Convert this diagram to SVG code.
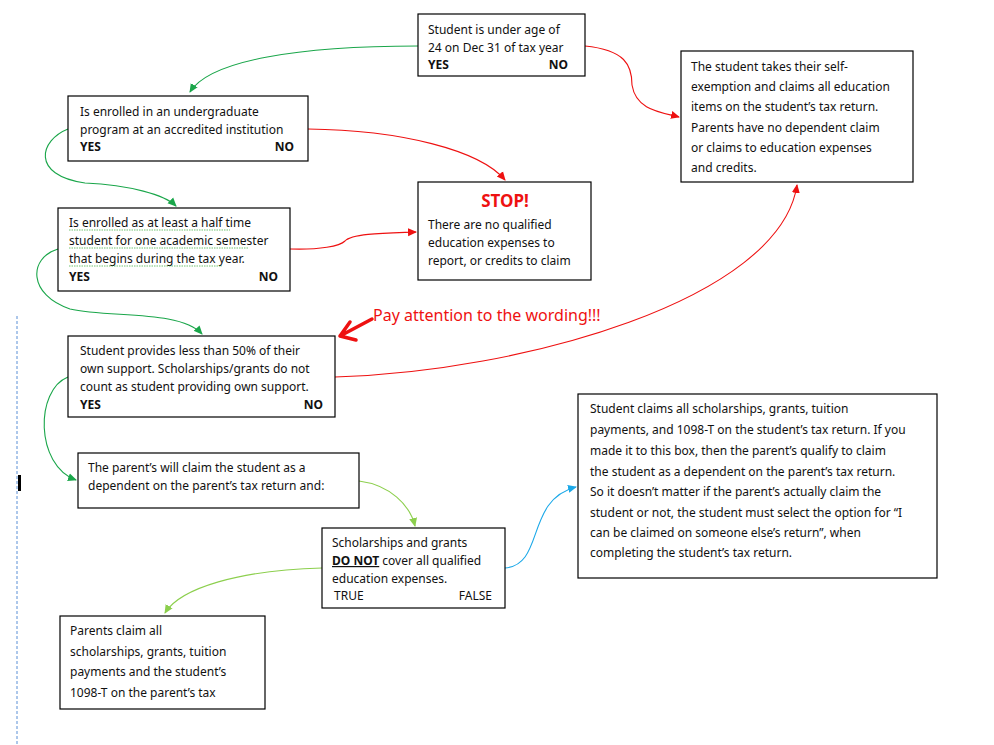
<svg xmlns="http://www.w3.org/2000/svg" width="994" height="745" viewBox="0 0 994 745">
<defs>
<style>
.b{fill:#fff;stroke:#000;stroke-width:1.2}
text{font-family:"Noto Sans","Liberation Sans",sans-serif;font-size:12px;fill:#111}
.k{font-weight:bold}
.c{fill:none;stroke-width:1.1}
.g{stroke:#1aa64a}.r{stroke:#ee1111}.lg{stroke:#8ccf4d}.bl{stroke:#1aa8e8}
.sq{fill:none;stroke:#3a3;stroke-width:0.7;stroke-dasharray:1.5 1}
</style>
<marker id="ag" markerWidth="10" markerHeight="10" refX="8" refY="5" orient="auto" markerUnits="userSpaceOnUse"><path d="M0,1 L9,5 L0,9z" fill="#1aa64a"/></marker>
<marker id="ar" markerWidth="10" markerHeight="10" refX="8" refY="5" orient="auto" markerUnits="userSpaceOnUse"><path d="M0,1 L9,5 L0,9z" fill="#ee1111"/></marker>
<marker id="al" markerWidth="10" markerHeight="10" refX="8" refY="5" orient="auto" markerUnits="userSpaceOnUse"><path d="M0,1 L9,5 L0,9z" fill="#8ccf4d"/></marker>
<marker id="ab" markerWidth="10" markerHeight="10" refX="8" refY="5" orient="auto" markerUnits="userSpaceOnUse"><path d="M0,1 L9,5 L0,9z" fill="#1aa8e8"/></marker>
</defs>
<rect width="994" height="745" fill="#fff"/>
<line x1="17" y1="316" x2="17" y2="745" stroke="#5b8fd6" stroke-dasharray="3 2"/>
<rect x="18" y="475" width="3" height="16" fill="#000"/>
<g id="connectors">
<path class="c g" d="M418,46 C300,46 210,60 190,92" marker-end="url(#ag)"/>
<path class="c r" d="M585,46 C625,50 632,65 632,85 C636,110 660,112 679,117" marker-end="url(#ar)"/>
<path class="c r" d="M308,129 C400,130 480,150 505,180" marker-end="url(#ar)"/>
<path class="c g" d="M68,129 C40,140 30,175 85,183 C130,185 165,195 176,206" marker-end="url(#ag)"/>
<path class="c r" d="M290,249 C320,250 340,246 345,241 C352,233 390,233 416,232" marker-end="url(#ar)"/>
<path class="c g" d="M58,249 C28,258 28,295 70,309 C110,318 180,310 202,334" marker-end="url(#ag)"/>
<path class="c r" d="M335,377 C520,372 780,300 797,185" marker-end="url(#ar)"/>
<path class="c g" d="M68,377 C35,390 35,465 76,480" marker-end="url(#ag)"/>
<path class="c lg" d="M359,481 C390,485 410,505 415,526" marker-end="url(#al)"/>
<path class="c lg" d="M322,568 C240,570 180,588 165,613" marker-end="url(#al)"/>
<path class="c bl" d="M505,568 C545,565 525,500 576,487" marker-end="url(#ab)"/>
</g>
<g id="note">
<path d="M372,319 L340,336 M340,336 L350,322 M340,336 L356,340" stroke="#ee1111" stroke-width="3.5" fill="none" stroke-linecap="round"/>
<text x="373" y="321" style="font-size:16px;fill:#ee1111">Pay attention to the wording!!!</text>
</g>
<g id="n1"><rect class="b" x="418" y="14" width="167" height="62"/>
<text x="428" y="34">Student is under age of</text><text x="428" y="52">24 on Dec 31 of tax year</text>
<text class="k" x="428" y="69">YES</text><text class="k" x="568" y="69" text-anchor="end">NO</text></g>
<g id="n2"><rect class="b" x="68" y="96" width="240" height="65"/>
<text x="80" y="116">Is enrolled in an undergraduate</text><text x="80" y="134">program at an accredited institution</text>
<text class="k" x="80" y="151">YES</text><text class="k" x="294" y="151" text-anchor="end">NO</text></g>
<g id="n3"><rect class="b" x="58" y="208" width="232" height="83"/>
<text x="69" y="227">Is enrolled as at least a half time</text><text x="69" y="245">student for one academic semester</text><text x="69" y="263">that begins during the tax year.</text>
<path class="sq" d="M69,230 H230 M69,248 H248 M69,266 H222"/>
<text class="k" x="69" y="281">YES</text><text class="k" x="278" y="281" text-anchor="end">NO</text></g>
<g id="stop"><rect class="b" x="418" y="182" width="173" height="98"/>
<text x="505" y="207" text-anchor="middle" style="font-size:17px;font-weight:bold;fill:#ee1111">STOP!</text>
<text x="428" y="229">There are no qualified</text><text x="428" y="247">education expenses to</text><text x="428" y="265">report, or credits to claim</text></g>
<g id="n9"><rect class="b" x="681" y="51" width="232" height="131"/>
<text x="691" y="71">The student takes their self-</text><text x="691" y="91">exemption and claims all education</text><text x="691" y="111">items on the student’s tax return.</text><text x="691" y="132">Parents have no dependent claim</text><text x="691" y="152">or claims to education expenses</text><text x="691" y="172">and credits.</text></g>
<g id="n4"><rect class="b" x="68" y="336" width="267" height="81"/>
<text x="80" y="355">Student provides less than 50% of their</text><text x="80" y="373">own support. Scholarships/grants do not</text><text x="80" y="391">count as student providing own support.</text>
<text class="k" x="80" y="409">YES</text><text class="k" x="323" y="409" text-anchor="end">NO</text></g>
<g id="n5"><rect class="b" x="78" y="453" width="281" height="55"/>
<text x="88" y="472">The parent’s will claim the student as a</text><text x="88" y="490">dependent on the parent’s tax return and:</text></g>
<g id="n6"><rect class="b" x="322" y="528" width="183" height="80"/>
<text x="332" y="547">Scholarships and grants</text>
<text x="332" y="565"><tspan class="k" text-decoration="underline">DO NOT</tspan> cover all qualified</text>
<text x="332" y="583">education expenses.</text>
<text x="334" y="600">TRUE</text><text x="492" y="600" text-anchor="end">FALSE</text></g>
<g id="n7"><rect class="b" x="60" y="616" width="205" height="93"/>
<text x="70" y="635">Parents claim all</text><text x="70" y="656">scholarships, grants, tuition</text><text x="70" y="676">payments and the student’s</text><text x="70" y="697">1098-T on the parent’s tax</text></g>
<g id="n8"><rect class="b" x="578" y="394" width="359" height="184"/>
<text x="590" y="413">Student claims all scholarships, grants, tuition</text>
<text x="590" y="434">payments, and 1098-T on the student’s tax return. If you</text>
<text x="590" y="455">made it to this box, then the parent’s qualify to claim</text>
<text x="590" y="476">the student as a dependent on the parent’s tax return.</text>
<text x="590" y="496">So it doesn’t matter if the parent’s actually claim the</text>
<text x="590" y="517">student or not, the student must select the option for “I</text>
<text x="590" y="537">can be claimed on someone else’s return”, when</text>
<text x="590" y="557">completing the student’s tax return.</text></g>
</svg>
